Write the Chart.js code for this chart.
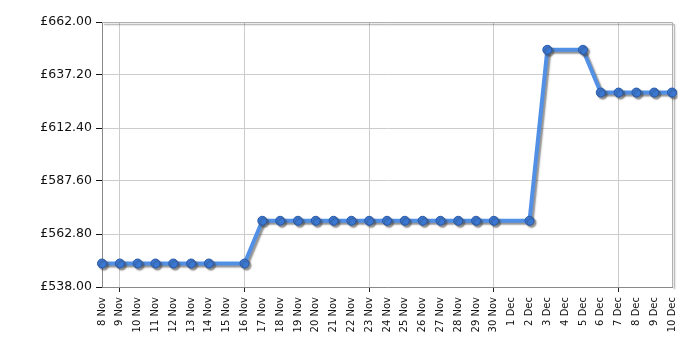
<!DOCTYPE html>
<html>
<head>
<meta charset="utf-8">
<script src="https://cdn.jsdelivr.net/npm/chart.js@4"></script>
<style>
  html, body { margin: 0; padding: 0; background: #fff; }
  #wrap { width: 700px; height: 350px; }
</style>
</head>
<body>
<div id="wrap"><canvas id="price-chart"></canvas></div>
<script>
// Dates along the bottom axis
const dates = ['8 Nov', '9 Nov', '10 Nov', '11 Nov', '12 Nov', '13 Nov', '14 Nov', '15 Nov',
    '16 Nov', '17 Nov', '18 Nov', '19 Nov', '20 Nov', '21 Nov', '22 Nov', '23 Nov', '24 Nov',
    '25 Nov', '26 Nov', '27 Nov', '28 Nov', '29 Nov', '30 Nov', '1 Dec', '2 Dec', '3 Dec',
    '4 Dec', '5 Dec', '6 Dec', '7 Dec', '8 Dec', '9 Dec', '10 Dec'];

// Price per day (null = no reading that day)
const prices = [548.99, 548.99, 548.99, 548.99, 548.99, 548.99, 548.99, null,
    548.99, 568.99, 568.99, 568.99, 568.99, 568.99, 568.99, 568.99, 568.99,
    568.99, 568.99, 568.99, 568.99, 568.99, 568.99, null, 568.99, 648.99,
    null, 648.99, 628.99, 628.99, 628.99, 628.99, 628.99];

// Y axis ticks
const priceTicks = [538.00, 562.80, 587.60, 612.40, 637.20, 662.00];

// indexes that get a vertical grid line
const weekIdx = [1, 8, 15, 22, 29];

// Drop shadow under the line and points
const shadowPlugin = {
    id: 'shadow',
    beforeDatasetsDraw(chart) {
        const ctx = chart.ctx;
        ctx.save();
        ctx.shadowColor = 'rgba(60, 60, 60, 0.55)';
        ctx.shadowBlur = 1.5;
        ctx.shadowOffsetX = 2;
        ctx.shadowOffsetY = 2;
    },
    afterDatasetsDraw(chart) {
        chart.ctx.restore();
    }
};

// Frame on top and right of the plot
const framePlugin = {
    id: 'frame',
    beforeDatasetsDraw(chart) {
        const a = chart.chartArea;
        const ctx = chart.ctx;
        ctx.save();
        ctx.strokeStyle = '#b0b0b0';
        ctx.lineWidth = 1;
        ctx.beginPath();
        ctx.moveTo(a.left, a.top + 0.5);
        ctx.lineTo(a.right + 0.5, a.top + 0.5);
        ctx.lineTo(a.right + 0.5, a.bottom);
        ctx.stroke();
        ctx.restore();
    }
};

function initChart() {
    const ctx = document.getElementById('price-chart');
    new Chart(ctx, {
        type: 'line',
        data: {
            labels: dates,
            datasets: [{
                data: prices,
                spanGaps: true,
                borderColor: '#5290e6',
                borderWidth: 4,
                tension: 0,
                pointRadius: 4.5,
                pointBackgroundColor: '#3a78d4',
                pointBorderColor: '#2858a8',
                pointBorderWidth: 1
            }]
        },
        options: {
            responsive: true,
            maintainAspectRatio: false,
            animation: false,
            layout: { padding: { top: 22, right: 28, bottom: 0, left: 0 } },
            plugins: { legend: { display: false }, tooltip: { enabled: false } },
            scales: {
                x: {
                    offset: false,
                    afterFit: axis => { axis.height = 63; },
                    grid: {
                        color: c => weekIdx.includes(c.index) ? '#cccccc' : 'rgba(0,0,0,0)',
                        tickColor: c => weekIdx.includes(c.index) ? '#222222' : 'rgba(0,0,0,0)',
                        tickLength: 5,
                        drawOnChartArea: true
                    },
                    border: { color: '#888888' },
                    ticks: {
                        autoSkip: false,
                        minRotation: 90,
                        maxRotation: 90,
                        padding: 5,
                        color: '#111111',
                        font: { family: 'DejaVu Sans', size: 10 }
                    }
                },
                y: {
                    min: 538,
                    max: 662,
                    afterFit: axis => { axis.width = 102; },
                    afterBuildTicks: axis => {
                        axis.ticks = priceTicks.map(v => ({ value: v }));
                    },
                    grid: {
                        color: '#cccccc',
                        tickColor: '#111111',
                        tickLength: 6
                    },
                    border: { color: '#888888' },
                    ticks: {
                        padding: 4,
                        color: '#111111',
                        font: { family: 'DejaVu Sans', size: 12.5 },
                        callback: v => '£' + v.toFixed(2)
                    }
                }
            }
        },
        plugins: [shadowPlugin, framePlugin]
    });
}

document.addEventListener('DOMContentLoaded', initChart);
</script>
</body>
</html>
